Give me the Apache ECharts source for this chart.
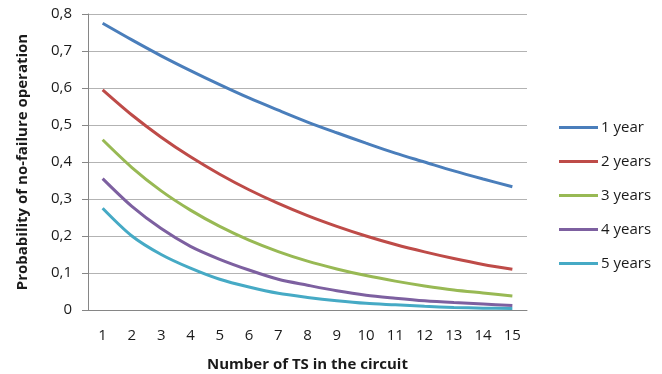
<!DOCTYPE html>
<html>
<head>
<meta charset="utf-8">
<script src="https://cdn.jsdelivr.net/npm/echarts@6/dist/echarts.min.js"></script>
<style>
	html, body {margin: 0; padding: 0; background: #fff;}
	#chart {width: 662px; height: 374px;}
</style>
</head>
<body>
<div id="chart"></div>
<script>
"use strict";

var categories = ['1', '2', '3', '4', '5', '6', '7', '8', '9', '10', '11', '12', '13', '14', '15'];
var seriesNames = ['1 year', '2 years', '3 years', '4 years', '5 years'];
var year1 = [0.775, 0.730, 0.687, 0.647, 0.609, 0.573, 0.540, 0.508, 0.479, 0.451, 0.424, 0.400, 0.376, 0.354, 0.333];
var year2 = [0.595, 0.527, 0.467, 0.414, 0.367, 0.325, 0.288, 0.255, 0.226, 0.200, 0.177, 0.157, 0.139, 0.123, 0.110];
var year3 = [0.460, 0.385, 0.322, 0.270, 0.226, 0.189, 0.158, 0.132, 0.111, 0.093, 0.078, 0.065, 0.054, 0.046, 0.038];
var year4 = [0.355, 0.280, 0.220, 0.172, 0.137, 0.108, 0.083, 0.067, 0.052, 0.040, 0.032, 0.025, 0.020, 0.016, 0.012];
var year5 = [0.275, 0.200, 0.150, 0.113, 0.083, 0.062, 0.045, 0.034, 0.025, 0.018, 0.014, 0.010, 0.007, 0.005, 0.004];
var colors = ['#4A7EBB', '#BE4B48', '#98B954', '#7D60A0', '#46AAC5'];

var font = 'Open Sans';
var chart = echarts.init(document.getElementById('chart'));
var data = [year1, year2, year3, year4, year5];
var series = [];
for (var i = 0; i < data.length; i++) {
	series.push({
		name: seriesNames[i],
		type: 'line',
		data: data[i],
		smooth: 0.3,
		symbol: 'none',
		lineStyle: {width: 3, color: colors[i]},
		itemStyle: {color: colors[i]}
	});
}

chart.setOption({
	animation: false,
	textStyle: {fontFamily: font},
	grid: {left: 88, right: 135, top: 14, bottom: 64, outerBoundsMode: 'none'},
	legend: {
		orient: 'vertical',
		left: 554,
		top: 115,
		itemWidth: 39,
		itemHeight: 14,
		itemGap: 19,
		icon: 'path://M0,0 L39,0 L39,3 L0,3 Z',
		textStyle: {fontFamily: font, fontSize: 15, color: '#1a1a1a', padding: [0, 0, 0, -2]},
		data: seriesNames
	},
	xAxis: {
		type: 'category',
		data: categories,
		boundaryGap: true,
		name: 'Number of TS in the circuit',
		nameLocation: 'middle',
		nameGap: 47,
		nameTextStyle: {fontFamily: font, fontSize: 15, fontWeight: 'bold', color: '#1a1a1a'},
		axisLine: {lineStyle: {color: '#868686', width: 1}},
		axisTick: {show: false},
		axisLabel: {fontSize: 15, color: '#1a1a1a', margin: 18, interval: 0}
	},
	yAxis: {
		type: 'value',
		min: 0,
		max: 0.8,
		interval: 0.1,
		name: 'Probability of no-failure operation',
		nameLocation: 'middle',
		nameGap: 58,
		nameTextStyle: {fontFamily: font, fontSize: 15, fontWeight: 'bold', color: '#1a1a1a'},
		axisLine: {show: true, lineStyle: {color: '#868686', width: 1}},
		axisTick: {show: true, length: 6, lineStyle: {color: '#868686'}},
		splitLine: {lineStyle: {color: '#B3B3B3', width: 1}},
		axisLabel: {
			fontSize: 15,
			color: '#1a1a1a',
			margin: 16,
			formatter: function (v) {
				return v === 0 ? '0' : v.toFixed(1).replace('.', ',');
			}
		}
	},
	series: series
});
</script>
</body>
</html>
